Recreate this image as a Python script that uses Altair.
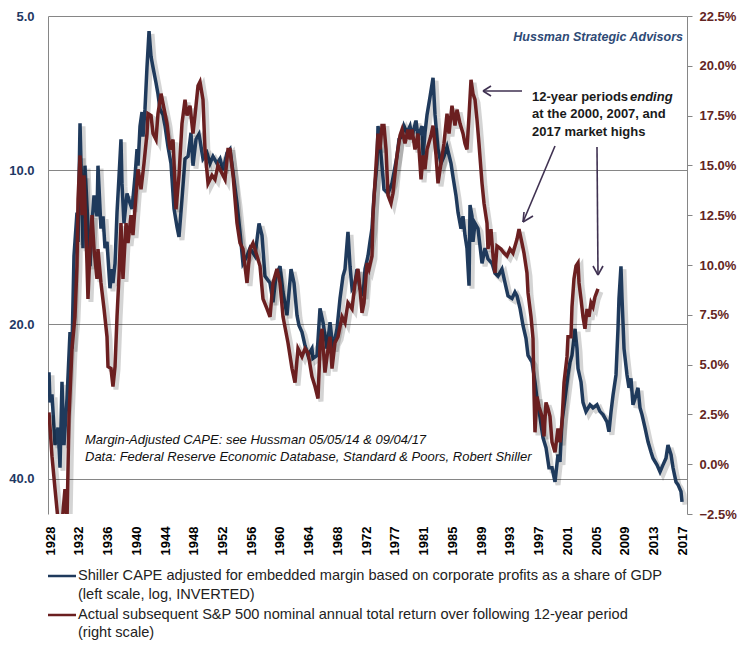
import altair as alt
import pandas as pd

# ---- data ----
cape_points = [
    (1928.14, 24.8), (1928.28, 28.4), (1928.56, 27.4), (1928.99, 34.4), (1929.41, 31.8), (1929.69, 38.1),
    (1929.97, 25.9), (1930.25, 34.4), (1930.68, 27.9), (1931.10, 20.7), (1931.38, 22.3), (1931.66, 14.7),
    (1932.08, 12.1), (1932.23, 13.8), (1932.51, 8.1), (1932.79, 11.6), (1932.93, 14.2), (1933.21, 9.8),
    (1933.63, 12.8), (1933.92, 15.4), (1934.20, 12.7), (1934.48, 11.2), (1934.90, 12.3), (1935.04, 9.8),
    (1935.46, 13.0), (1935.75, 12.3), (1936.03, 14.2), (1936.31, 13.8), (1936.73, 17.0), (1937.01, 15.6),
    (1937.15, 16.6), (1937.44, 15.2), (1937.72, 12.1), (1938.00, 10.3), (1938.28, 8.7), (1938.42, 10.6),
    (1938.70, 12.7), (1939.13, 11.1), (1939.55, 11.6), (1939.83, 11.9), (1940.25, 10.3), (1940.54, 9.1),
    (1940.68, 9.8), (1940.96, 8.2), (1941.24, 7.7), (1941.38, 8.6), (1941.66, 7.6), (1941.94, 6.3),
    (1942.23, 5.35), (1942.51, 6.0), (1942.79, 6.3), (1943.21, 6.75), (1943.49, 7.1), (1943.77, 7.6),
    (1944.20, 7.8), (1944.48, 8.2), (1944.90, 9.0), (1945.32, 9.7), (1945.75, 11.9), (1946.17, 12.9),
    (1946.45, 13.5), (1946.87, 11.4), (1947.30, 9.5), (1947.72, 9.4), (1948.14, 8.45), (1948.42, 9.8),
    (1948.85, 8.7), (1949.27, 8.5), (1949.83, 9.5), (1950.39, 9.25), (1950.82, 9.7), (1951.24, 9.4),
    (1951.80, 9.7), (1952.23, 9.5), (1952.65, 10.0), (1953.21, 9.25), (1953.63, 9.1), (1954.06, 10.1),
    (1954.62, 11.6), (1955.04, 13.2), (1955.46, 15.2), (1956.03, 14.7), (1956.45, 14.2), (1957.15, 14.7),
    (1957.72, 12.7), (1958.14, 13.4), (1958.56, 16.1), (1959.27, 16.6), (1959.69, 18.1), (1960.11, 16.1),
    (1960.68, 15.4), (1961.10, 17.3), (1961.66, 19.2), (1962.23, 15.6), (1962.65, 16.6), (1963.07, 19.2),
    (1963.35, 20.1), (1963.77, 20.7), (1964.20, 22.0), (1964.62, 23.0), (1965.18, 22.3), (1965.32, 23.3),
    (1965.89, 23.0), (1966.31, 18.6), (1966.73, 19.8), (1967.30, 22.3), (1967.72, 19.8), (1968.14, 22.3),
    (1968.70, 20.4), (1969.13, 17.8), (1969.55, 16.1), (1969.83, 15.6), (1970.25, 13.2), (1970.54, 15.4),
    (1970.82, 17.0), (1971.24, 16.6), (1971.52, 15.6), (1971.94, 17.0), (1972.37, 17.6), (1972.65, 15.6),
    (1973.07, 14.7), (1973.35, 13.8), (1973.63, 13.0), (1973.92, 11.2), (1974.34, 9.7), (1974.48, 8.2),
    (1974.76, 8.85), (1975.04, 9.8), (1975.32, 10.9), (1975.89, 11.1), (1976.45, 10.6), (1976.73, 10.1),
    (1977.15, 9.4), (1977.44, 8.7), (1977.86, 8.6), (1978.14, 8.2), (1978.56, 8.45), (1978.99, 8.2),
    (1979.27, 8.6), (1979.83, 8.0), (1980.11, 8.6), (1980.68, 8.2), (1980.82, 9.4), (1981.10, 8.45),
    (1981.38, 7.8), (1981.80, 7.2), (1982.23, 6.6), (1982.51, 7.8), (1982.93, 9.1), (1983.35, 9.7),
    (1983.77, 9.4), (1984.20, 9.0), (1984.76, 9.7), (1985.04, 10.3), (1985.46, 11.2), (1985.75, 12.1),
    (1986.17, 13.0), (1986.45, 12.3), (1986.73, 13.4), (1987.01, 14.2), (1987.30, 16.8), (1987.44, 11.7),
    (1987.72, 12.3), (1987.86, 13.8), (1988.14, 12.7), (1988.56, 13.0), (1989.13, 15.2), (1989.55, 14.2),
    (1989.97, 14.9), (1990.54, 15.2), (1990.96, 15.9), (1991.38, 16.1), (1991.94, 15.6), (1992.37, 16.6),
    (1992.79, 17.6), (1993.35, 17.8), (1993.77, 17.3), (1994.06, 17.6), (1994.48, 18.6), (1994.90, 20.1),
    (1995.32, 21.3), (1995.61, 23.0), (1996.17, 23.7), (1996.59, 25.9), (1996.87, 27.9), (1997.30, 30.4),
    (1997.72, 33.3), (1998.14, 34.8), (1998.56, 38.1), (1998.99, 38.1), (1999.41, 40.6), (1999.83, 35.9),
    (2000.11, 37.1), (2000.39, 31.0), (2000.82, 27.9), (2001.24, 25.1), (2001.52, 23.7), (2001.80, 23.0),
    (2002.23, 20.4), (2002.51, 22.3), (2002.65, 24.4), (2003.07, 25.9), (2003.35, 28.4), (2003.77, 29.6),
    (2004.34, 28.7), (2004.76, 29.1), (2005.32, 28.7), (2005.75, 29.6), (2006.17, 30.0), (2006.73, 31.0),
    (2007.01, 32.4), (2007.30, 29.6), (2007.58, 27.5), (2008.00, 25.1), (2008.28, 20.4), (2008.42, 17.8),
    (2008.70, 15.4), (2008.85, 17.8), (2009.13, 22.3), (2009.55, 25.1), (2009.83, 26.6), (2010.11, 25.5),
    (2010.39, 28.7), (2010.68, 27.9), (2011.10, 26.6), (2011.38, 29.1), (2011.66, 30.0), (2012.08, 31.8),
    (2012.51, 33.9), (2012.93, 35.5), (2013.21, 36.5), (2013.77, 37.6), (2014.20, 38.8), (2014.62, 37.6),
    (2015.04, 36.5), (2015.32, 34.4), (2015.75, 35.9), (2016.03, 38.1), (2016.45, 40.6), (2016.73, 41.1),
    (2017.15, 42.4), (2017.30, 44.4),
]

return_points = [
    (1928.14, 2.6), (1928.56, 0.4), (1928.99, -1.25), (1929.41, -2.8), (1929.97, -3.0), (1930.39, -1.25),
    (1930.68, -2.8), (1930.96, 2.4), (1931.38, 5.8), (1931.80, 7.4), (1932.08, 9.95), (1932.23, 13.3),
    (1932.51, 15.5), (1932.79, 12.5), (1933.07, 14.5), (1933.49, 10.1), (1933.63, 8.3), (1933.92, 10.8),
    (1934.20, 12.5), (1934.48, 10.8), (1934.90, 9.3), (1935.04, 10.8), (1935.46, 9.1), (1935.89, 7.8),
    (1936.31, 6.4), (1936.45, 4.9), (1936.87, 4.8), (1937.15, 3.9), (1937.44, 4.9), (1937.72, 7.4),
    (1938.00, 9.45), (1938.28, 12.1), (1938.56, 9.3), (1938.99, 12.1), (1939.27, 11.1), (1939.69, 12.5),
    (1939.97, 11.5), (1940.39, 13.5), (1940.68, 14.8), (1941.10, 13.8), (1941.52, 15.1), (1941.94, 16.6),
    (1942.08, 17.6), (1942.51, 17.5), (1942.79, 16.6), (1943.21, 16.3), (1943.49, 17.6), (1943.92, 18.6),
    (1944.20, 18.1), (1944.76, 17.1), (1945.18, 15.8), (1945.61, 16.3), (1946.03, 12.8), (1946.45, 14.5),
    (1946.87, 17.1), (1947.30, 18.3), (1947.58, 17.5), (1948.00, 18.0), (1948.42, 16.6), (1948.70, 17.5),
    (1949.13, 19.0), (1949.41, 19.2), (1949.83, 18.3), (1950.11, 15.8), (1950.54, 14.1), (1951.10, 14.5),
    (1951.52, 14.3), (1951.94, 15.0), (1952.51, 14.6), (1952.93, 14.3), (1953.35, 15.8), (1953.63, 15.8),
    (1954.06, 14.5), (1954.62, 12.1), (1955.04, 11.1), (1955.46, 10.8), (1956.03, 9.1), (1956.45, 10.8),
    (1956.87, 11.1), (1957.44, 10.45), (1957.86, 9.95), (1958.28, 8.3), (1958.85, 7.8), (1959.27, 7.4),
    (1959.69, 9.1), (1960.25, 9.8), (1960.68, 9.1), (1961.10, 7.4), (1961.80, 6.1), (1962.37, 4.8),
    (1962.79, 4.1), (1963.21, 5.8), (1963.77, 5.4), (1964.20, 5.8), (1964.62, 5.6), (1965.18, 4.4),
    (1965.61, 3.9), (1966.03, 3.3), (1966.31, 5.9), (1966.59, 6.8), (1967.01, 4.6), (1967.44, 5.8),
    (1967.72, 6.4), (1968.00, 4.8), (1968.42, 6.1), (1968.85, 6.4), (1969.41, 7.4), (1969.83, 7.1),
    (1970.25, 8.1), (1970.82, 7.8), (1971.24, 9.1), (1971.66, 9.8), (1971.94, 8.8), (1972.23, 7.6),
    (1972.51, 8.1), (1972.93, 10.1), (1973.21, 9.8), (1973.63, 10.45), (1973.77, 12.5), (1974.20, 15.0),
    (1974.48, 16.6), (1974.76, 15.8), (1975.04, 17.0), (1975.32, 17.0), (1975.61, 15.8), (1975.89, 13.5),
    (1976.31, 13.1), (1976.59, 13.6), (1977.15, 15.5), (1977.58, 16.5), (1977.86, 16.8), (1978.28, 16.1),
    (1978.70, 16.8), (1978.99, 16.3), (1979.27, 16.8), (1979.69, 15.8), (1980.11, 16.6), (1980.54, 14.3),
    (1980.82, 15.5), (1981.10, 14.8), (1981.38, 15.8), (1981.94, 16.5), (1982.23, 17.0), (1982.65, 15.5),
    (1982.93, 14.1), (1983.35, 15.1), (1983.77, 16.1), (1984.20, 17.6), (1984.48, 16.6), (1984.90, 18.0),
    (1985.32, 17.0), (1985.61, 17.8), (1986.03, 17.1), (1986.45, 16.6), (1986.73, 16.1), (1987.01, 15.8),
    (1987.30, 17.5), (1987.58, 19.3), (1987.86, 18.6), (1988.14, 18.3), (1988.42, 17.3), (1988.70, 16.1),
    (1989.13, 14.1), (1989.41, 13.1), (1989.83, 12.1), (1989.97, 10.8), (1990.39, 11.8), (1990.68, 10.45),
    (1990.96, 9.6), (1991.24, 10.95), (1991.80, 10.8), (1992.23, 10.6), (1992.65, 10.45), (1993.07, 10.8),
    (1993.49, 10.6), (1994.06, 11.3), (1994.34, 11.8), (1994.76, 11.1), (1995.04, 10.6), (1995.46, 9.6),
    (1995.61, 8.6), (1996.03, 7.4), (1996.31, 6.3), (1996.45, 3.6), (1996.59, 1.6), (1996.87, 3.4),
    (1997.15, 2.9), (1997.58, 2.4), (1997.86, 1.4), (1998.14, 3.1), (1998.42, 2.8), (1998.70, 2.4),
    (1998.99, 1.1), (1999.41, 0.6), (1999.83, 1.8), (2000.11, 1.1), (2000.39, 2.1), (2000.68, 4.1),
    (2001.10, 5.4), (2001.24, 6.4), (2001.66, 6.4), (2001.80, 7.9), (2002.08, 9.3), (2002.37, 9.95),
    (2002.65, 10.1), (2002.79, 9.1), (2003.07, 8.3), (2003.35, 7.4), (2003.63, 6.8), (2003.92, 7.8),
    (2004.20, 7.4), (2004.48, 8.1), (2004.76, 7.9), (2005.04, 8.4), (2005.46, 8.8),
]

x_tick_labels = ["1928", "1932", "1936", "1940", "1944", "1948", "1952", "1956", "1960", "1964",
                 "1968", "1972", "1977", "1981", "1985", "1989", "1993", "1997", "2001", "2005",
                 "2009", "2013", "2017"]
left_ticks = [5, 10, 20, 40]
right_ticks = [-2.5, 0, 2.5, 5, 7.5, 10, 12.5, 15, 17.5, 20, 22.5]

legend_lines = [
    "Shiller CAPE adjusted for embedded margin based on corporate profits as a share of GDP",
    "(left scale, log, INVERTED)",
    "Actual subsequent S&P 500 nominal annual total return over following 12-year period",
    "(right scale)",
]

# ---- styling ----
W, H = 639, 498
BLUE = "#1F3A5C"
RED = "#6B1F20"
GRID = "#868686"
ARROW = "#3F3151"
FONT = "Liberation Sans"

cape_df = pd.DataFrame(cape_points, columns=["year", "cape"])
ret_df = pd.DataFrame(return_points, columns=["year", "ret"])

x_start, x_step = 1928.3, 4.047
tick_pos = [x_start + i * x_step for i in range(len(x_tick_labels))]
label_arr = "[" + ",".join("'" + t + "'" for t in x_tick_labels) + "]"
x_axis = alt.Axis(values=tick_pos, labelExpr=f"{label_arr}[round((datum.value - {x_start}) / {x_step})]",
                  labelAngle=270, labelFont=FONT, labelFontSize=13, labelFontWeight="bold",
                  labelColor="#000000", domain=False, ticks=False, tickSize=0, grid=False,
                  labelPadding=12, title=None, labelOverlap=False, labelFlush=False)
x_enc = alt.X("year:Q", scale=alt.Scale(domain=[1928, 2018], nice=False, zero=False), axis=x_axis)

left_axis = alt.Axis(values=left_ticks, format=".1f", orient="left", grid=True, gridColor=GRID,
                     gridWidth=1, gridOpacity=1, domain=True, domainColor=GRID, ticks=False, tickSize=0,
                     labelPadding=14, labelColor="#1F3864", labelFont=FONT, labelFontSize=13,
                     labelFontWeight="bold", title=None, labelFlush=False)
cape_y = alt.Y("cape:Q", scale=alt.Scale(type="log", domain=[5, 46.9], reverse=True, nice=False),
               axis=left_axis)

right_axis = alt.Axis(values=right_ticks, labelExpr="format(datum.value, '.1f') + '%'", orient="right",
                      grid=False, domain=True, domainColor=GRID, ticks=True, tickColor=GRID, tickSize=5,
                      labelPadding=7, labelColor="#632523", labelFont=FONT, labelFontSize=13,
                      labelFontWeight="bold", title=None, labelFlush=False)
ret_y = alt.Y("ret:Q", scale=alt.Scale(domain=[-2.5, 22.5], nice=False, zero=False), axis=right_axis)

shadow = dict(color="#000000", opacity=0.17, strokeWidth=5, xOffset=3, yOffset=3, clip=True)

blue_layer = alt.layer(
    alt.Chart(cape_df).mark_line(**shadow).encode(x=x_enc, y=cape_y),
    alt.Chart(cape_df).mark_line(color=BLUE, strokeWidth=3.5, clip=True).encode(x=x_enc, y=cape_y),
)
red_layer = alt.layer(
    alt.Chart(ret_df).mark_line(**shadow).encode(x=x_enc, y=ret_y),
    alt.Chart(ret_df).mark_line(color=RED, strokeWidth=3.5, clip=True).encode(x=x_enc, y=ret_y),
)

one = pd.DataFrame({"k": [0]})


def text(t, x, y, **kw):
    props = dict(font=FONT, align="left", baseline="middle", text=t)
    props.update(kw)
    return alt.Chart(one).mark_text(**props).encode(x=alt.value(x), y=alt.value(y))


def seg(x1, y1, x2, y2, color=ARROW, width=1.6):
    return alt.Chart(one).mark_rule(color=color, strokeWidth=width).encode(
        x=alt.value(x1), y=alt.value(y1), x2=alt.value(x2), y2=alt.value(y2))


annot = [
    text("Hussman Strategic Advisors", 635, 21, align="right", fontSize=12.5, fontStyle="italic",
         fontWeight="bold", color="#2E4A75"),
    text("12-year periods", 484, 81, fontSize=13, fontWeight="bold", color="#1A1A1A"),
    text("ending", 582, 81, fontSize=13, fontWeight="bold", fontStyle="italic", color="#1A1A1A"),
    text("at the 2000,  2007,  and", 484, 98, fontSize=13, fontWeight="bold", color="#1A1A1A"),
    text("2017  market highs", 484, 116, fontSize=13, fontWeight="bold", color="#1A1A1A"),
    text("Margin-Adjusted CAPE: see Hussman 05/05/14 & 09/04/17", 37, 424, fontSize=13,
         fontStyle="italic", color="#111111"),
    text("Data: Federal Reserve Economic Database, Standard & Poors, Robert Shiller", 37, 441,
         fontSize=13, fontStyle="italic", color="#111111"),
    # arrows
    seg(474, 75, 435, 75), seg(435, 75, 443, 70), seg(435, 75, 443, 80),
    seg(507, 130, 475, 206), seg(475, 206, 476, 196), seg(475, 206, 485, 200),
    seg(549, 131, 550, 259), seg(550, 259, 545, 250), seg(550, 259, 555, 250),
    # legend
    seg(0, 560, 28, 560, color=BLUE, width=2.5),
    seg(0, 599, 28, 599, color=RED, width=2.5),
    text(legend_lines[0], 30, 560, fontSize=14.6, color="#222222"),
    text(legend_lines[1], 30, 579, fontSize=14.6, color="#222222"),
    text(legend_lines[2], 30, 599, fontSize=14.6, color="#222222"),
    text(legend_lines[3], 30, 617, fontSize=14.6, color="#222222"),
]

chart = alt.layer(blue_layer, red_layer, *annot).resolve_scale(y="independent").properties(
    width=W, height=H,
    autosize=alt.AutoSizeParams(type="none"),
    padding={"left": 40, "top": 8, "right": 52, "bottom": 127},
    background="white",
).configure_view(stroke=None)

chart.save("out.html", embed_options={"renderer": "svg", "actions": False})
